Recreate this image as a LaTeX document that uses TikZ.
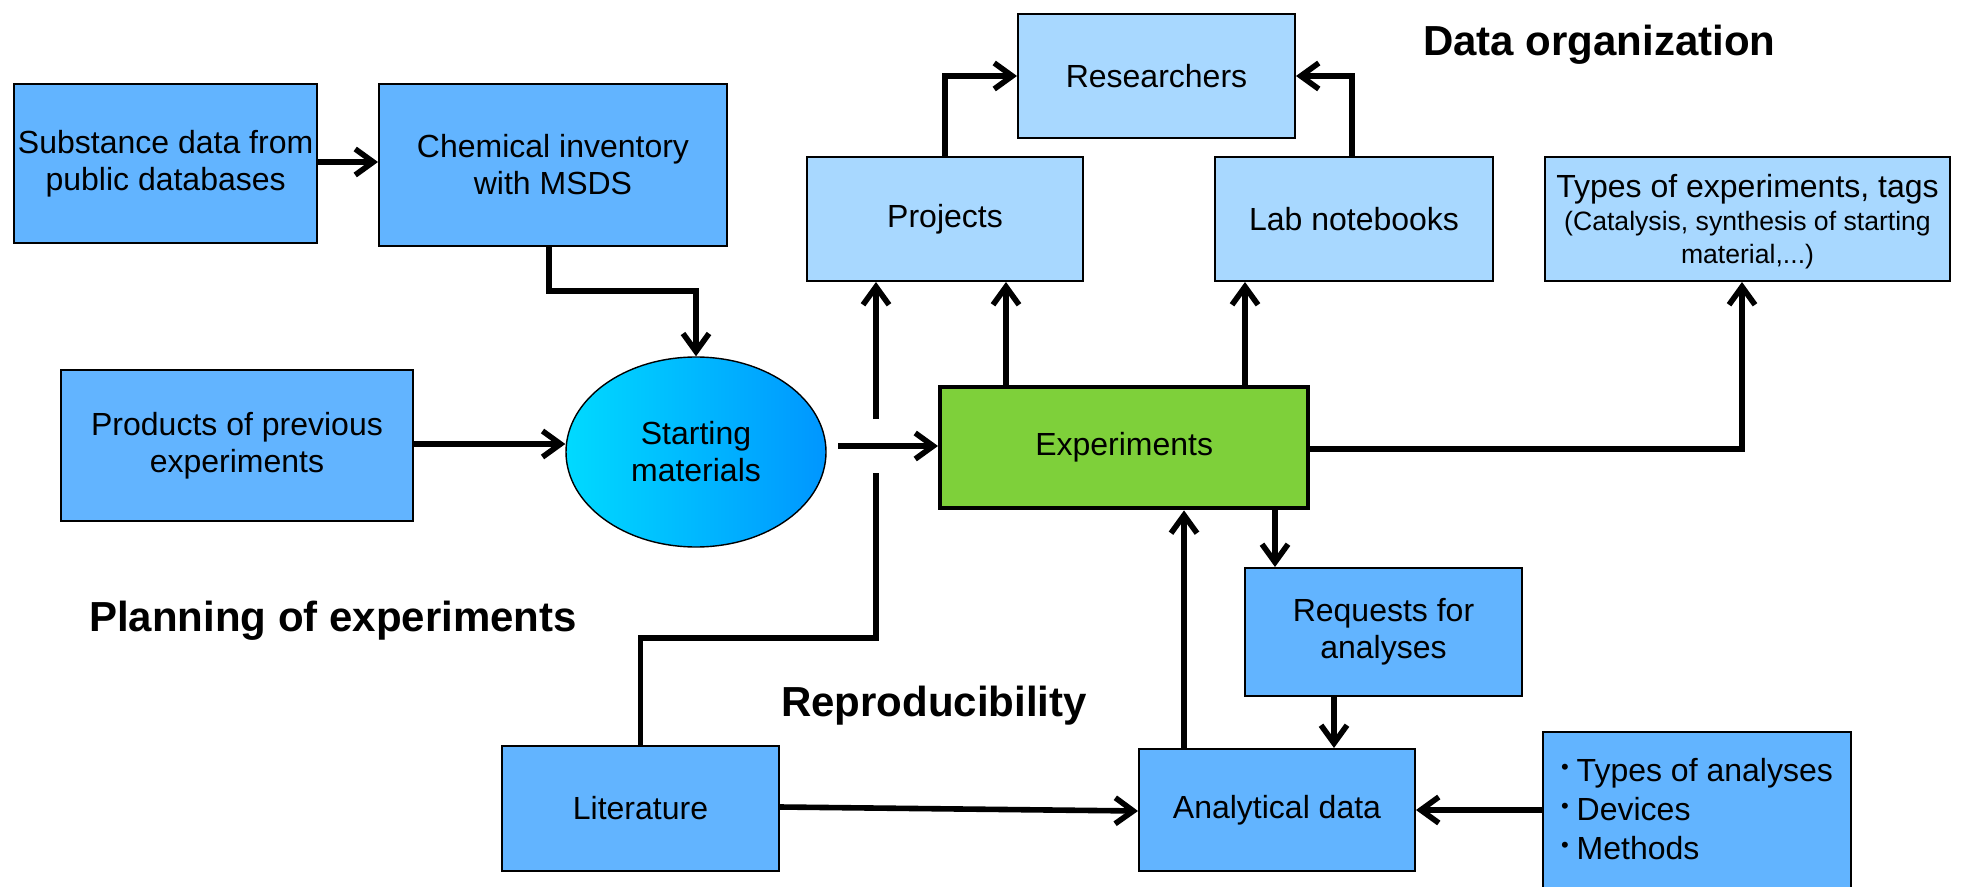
\documentclass[tikz,border=0pt]{standalone}
\usepackage{fontspec}
\setmainfont{Liberation Sans}
\usetikzlibrary{arrows.meta,shapes.geometric}
\definecolor{dblue}{RGB}{98,180,255}
\definecolor{lblue}{RGB}{168,216,255}
\definecolor{egreen}{RGB}{126,208,58}
\definecolor{ecyan}{RGB}{0,218,255}
\definecolor{eblue}{RGB}{0,150,255}
\newcommand{\mybul}{\raisebox{3.5pt}{\fontsize{11}{11}\selectfont•}\hspace{4pt}}
\begin{document}
\begin{tikzpicture}[x=0.5pt,y=-0.5pt,
  box/.style={draw=black, line width=1pt, align=center, inner sep=2pt,
    font=\fontsize{16}{18.5}\selectfont, anchor=north west},
  dbox/.style={box, fill=dblue},
  lbox/.style={box, fill=lblue},
  wire/.style={line width=2.8pt},
  conn/.style={wire, -{Straight Barb[length=9pt,width=13pt]}},
  lbl/.style={font=\fontsize{21}{25}\selectfont\bfseries, anchor=west}]
\useasboundingbox (0,0) rectangle (1969,887);

% nodes
\node[dbox, minimum width=150pt, minimum height=79.5pt] (subst) at (13,83) {Substance data from\\public databases};
\node[dbox, minimum width=174pt, minimum height=81pt] (chem) at (378,83) {Chemical inventory\\with MSDS};
\node[lbox, minimum width=138.5pt, minimum height=62pt] (res) at (1017,13) {Researchers};
\node[lbox, minimum width=138pt, minimum height=62pt] (proj) at (806,156) {Projects};
\node[lbox, minimum width=139pt, minimum height=62pt] (lab) at (1214,156) {Lab notebooks};
\node[lbox, minimum width=202.5pt, minimum height=62pt, text depth=0pt] (types) at (1544,156)
  {\rule{0pt}{6pt}Types of experiments, tags\\[-2pt]{\fontsize{13.3}{16}\selectfont (Catalysis, synthesis of starting}\\[-2pt]{\fontsize{13.3}{16}\selectfont material,...)}};
\node[dbox, minimum width=176pt, minimum height=75.5pt] (prod) at (60,369) {Products of previous\\experiments};
\node[draw=black, line width=0.7pt, ellipse, left color=ecyan, right color=eblue, shading=axis,
  minimum width=130pt, minimum height=95pt, inner sep=0pt, align=center,
  font=\fontsize{16}{18.5}\selectfont] (start) at (696,452) {Starting\\materials};
\node[box, fill=egreen, line width=2.2pt, minimum width=184pt, minimum height=60.5pt] (exp) at (938,385) {Experiments};
\node[dbox, minimum width=138.5pt, minimum height=64pt] (req) at (1244,567) {Requests for\\analyses};
\node[dbox, minimum width=138pt, minimum height=61pt] (anal) at (1138,748) {Analytical data};
\node[dbox, minimum width=138.5pt, minimum height=62.5pt] (lit) at (501,745) {Literature};
\node[dbox, minimum width=153pt, minimum height=90pt, align=left, anchor=north west,
  font=\fontsize{16}{19.5}\selectfont, inner xsep=9pt, inner ysep=13pt, text depth=0pt] (bul) at (1542,731)
  {\mybul Types of analyses\\\mybul Devices\\\mybul Methods\\[12pt]};

\node[lbl] (dorg) at (1416,45) {Data organization};
\node[lbl] (plan) at (82,621) {Planning of experiments};
\node[lbl] (repro) at (774,706) {Reproducibility};

% coordinates
\coordinate (xP) at (945,0);
\coordinate (xEP) at (1006,0);
\coordinate (xEL) at (1245,0);
\coordinate (xL) at (1352,0);
\coordinate (xT) at (1742,0);
\coordinate (xR) at (1275,0);
\coordinate (xQ) at (1334,0);
\coordinate (xA) at (1184,0);
\coordinate (xC) at (549,0);
\coordinate (sx) at (838,446);
\coordinate (j1) at (876,473);
\coordinate (j2) at (876,419);

% connectors
\draw[conn] (subst.east |- 0,162) -- (chem.west |- 0,162);
\draw[conn] (xC |- chem.south) -- ++(0,44) -| (start.north);
\draw[conn] (prod.east |- 0,444) -- (start.west |- 0,444);
\draw[conn] (sx) -- (sx -| exp.west);
\draw[wire] (lit.north) -- ++(0,-107) -| (j1);
\draw[conn] (j2) -- (j2 |- proj.south);
\draw[conn] (xEP |- exp.north) -- (xEP |- proj.south);
\draw[conn] (xP |- proj.north) |- (res.west);
\draw[conn] (xEL |- exp.north) -- (xEL |- lab.south);
\draw[conn] (xL |- lab.north) |- (res.east);
\draw[conn] (exp.east |- 0,449) -| (xT |- types.south);
\draw[conn] (xR |- exp.south) -- (xR |- req.north);
\draw[conn] (xQ |- req.south) -- (xQ |- anal.north);
\draw[conn] (xA |- anal.north) -- (xA |- exp.south);
\draw[conn] (lit.east |- 0,807) -- (anal.west |- 0,811);
\draw[conn] (bul.west |- 0,810) -- (anal.east |- 0,810);
\end{tikzpicture}
\end{document}
